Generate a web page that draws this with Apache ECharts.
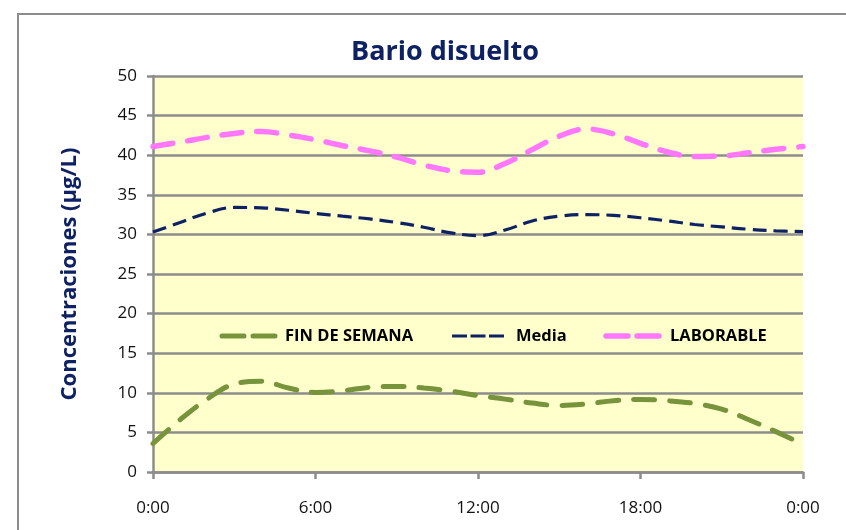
<!DOCTYPE html>
<html>
<head>
<meta charset="utf-8">
<script src="https://cdn.jsdelivr.net/npm/echarts@6/dist/echarts.min.js"></script>
<style>
html,body{margin:0;padding:0;background:#fff;}
#chart{width:846px;height:530px;}
</style>
</head>
<body>
<div id="chart"></div>
<script>
const hours = [0,1,2,3,4,5,6,7,8,9,10,11,12,13,14,15,16,17,18,19,20,21,22,23,24];
const xTickLabels = ['0:00','6:00','12:00','18:00','0:00'];
const finDeSemana = [3.6,6.6,9.2,11.1,11.45,10.6,10.05,10.25,10.7,10.8,10.6,10.2,9.65,9.2,8.7,8.4,8.6,9.0,9.15,9.0,8.65,7.95,6.6,5.1,3.5];
const media = [30.3,31.5,32.7,33.4,33.35,33.05,32.65,32.3,31.95,31.5,30.9,30.2,29.85,30.55,31.7,32.3,32.5,32.4,32.1,31.7,31.25,30.95,30.65,30.45,30.35];
const laborable = [41.1,41.65,42.25,42.75,43.0,42.55,41.95,41.2,40.55,39.75,38.75,38.05,37.85,38.95,40.7,42.4,43.3,42.7,41.5,40.4,39.85,39.9,40.3,40.75,41.1];
const seriesNames = ['FIN DE SEMANA','Media','LABORABLE'];
const seriesColors = ['#77933c','#0d2163','#ff77ff'];

const pairs = arr => hours.map((h,i)=>[h,arr[i]]);
const chart = echarts.init(document.getElementById('chart'));
const FONT = '"Open Sans", "Liberation Sans", sans-serif';
const styles = [
  {width:5, dash:[21,15], cap:'round'},
  {width:3.2, dash:[14,7], cap:'butt'},
  {width:5.5, dash:[20,15], cap:'round'}
];
// legend layout (inside plot, as in the reference)
const legendY = 336;
const legendItems = [
  {x1:222, x2:276, tx:285},
  {x1:452, x2:504, tx:516},
  {x1:606, x2:665, tx:670}
];
const legendGraphics = [];
legendItems.forEach((it,i)=>{
  legendGraphics.push({type:'line',z:10,shape:{x1:it.x1,y1:legendY,x2:it.x2,y2:legendY},
    style:{stroke:seriesColors[i],lineWidth:styles[i].width,lineDash:i===1?[15,3.5]:[22,9],lineCap:styles[i].cap}});
  legendGraphics.push({type:'text',z:10,x:it.tx,y:legendY,
    style:{text:seriesNames[i],fill:'#000',font:'bold 16.5px '+FONT,textVerticalAlign:'middle',verticalAlign:'middle'}});
});

chart.setOption({
  animation:false,
  backgroundColor:'#ffffff',
  graphic:[{type:'rect',shape:{x:18,y:14,width:900,height:700},style:{fill:'none',stroke:'#8c8c8c',lineWidth:2},z:-1}].concat(legendGraphics),
  title:{text:'Bario disuelto',left:440,top:34,textAlign:'center',
    textStyle:{fontFamily:FONT,fontWeight:'bold',fontSize:27,color:'#0d2163'}},
  grid:{left:153,right:43,top:76,bottom:58,show:true,backgroundColor:'#ffffcc',borderWidth:0},
  xAxis:{type:'value',min:0,max:24,interval:6,
    axisLine:{lineStyle:{color:'#8c8c8c',width:2.5}},
    axisTick:{length:7,lineStyle:{color:'#8c8c8c',width:2.5}},
    splitLine:{show:false},
    axisLabel:{margin:28,fontFamily:FONT,fontSize:17,color:'#111',formatter:v=>xTickLabels[Math.round(v/6)]}},
  yAxis:{type:'value',min:0,max:50,interval:5,
    name:'Concentraciones (µg/L)',nameLocation:'middle',nameGap:72,nameRotate:90,
    nameTextStyle:{fontFamily:FONT,fontWeight:'bold',fontSize:22,color:'#0d2163'},
    axisLine:{show:true,lineStyle:{color:'#8c8c8c',width:2.5}},
    axisTick:{show:true,length:6,lineStyle:{color:'#8c8c8c',width:2.5}},
    splitLine:{lineStyle:{color:'#8c8c8c',width:2.5}},
    axisLabel:{margin:16,fontFamily:FONT,fontSize:17,color:'#111'}},
  series:seriesNames.map((n,i)=>({
    name:n,type:'line',data:pairs([finDeSemana,media,laborable][i]),smooth:0.4,symbol:'none',
    lineStyle:{color:seriesColors[i],width:styles[i].width,type:styles[i].dash,cap:styles[i].cap},
    itemStyle:{color:seriesColors[i]}
  }))
});
</script>
</body>
</html>
